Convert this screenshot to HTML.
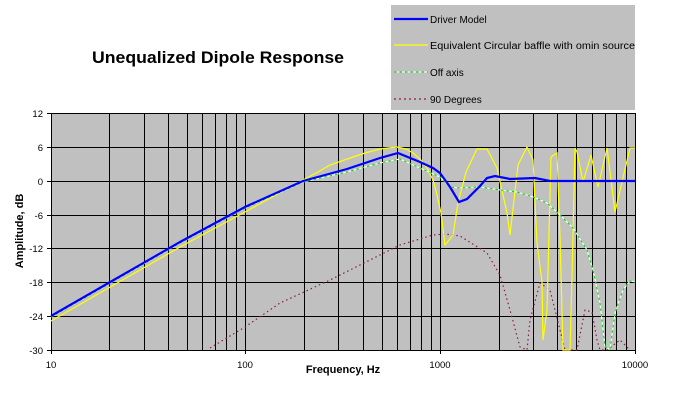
<!DOCTYPE html>
<html><head><meta charset="utf-8"><style>
html,body{margin:0;padding:0;background:#fff;}
svg{display:block;font-family:"Liberation Sans",Arial,sans-serif;}
</style></head><body>
<svg width="693" height="415" viewBox="0 0 693 415" xmlns="http://www.w3.org/2000/svg">
<rect x="0" y="0" width="693" height="415" fill="#fff"/>
<rect x="51" y="113" width="584" height="237" fill="#c0c0c0"/>
<g stroke="#000" stroke-width="1">
<line x1="51" y1="113.5" x2="635" y2="113.5"/>
<line x1="51" y1="147.5" x2="635" y2="147.5"/>
<line x1="51" y1="181.5" x2="635" y2="181.5"/>
<line x1="51" y1="215.5" x2="635" y2="215.5"/>
<line x1="51" y1="248.5" x2="635" y2="248.5"/>
<line x1="51" y1="282.5" x2="635" y2="282.5"/>
<line x1="51" y1="316.5" x2="635" y2="316.5"/>
<line x1="51" y1="350.5" x2="635" y2="350.5"/>
<line x1="51.5" y1="113" x2="51.5" y2="350"/>
<line x1="109.5" y1="113" x2="109.5" y2="350"/>
<line x1="144.5" y1="113" x2="144.5" y2="350"/>
<line x1="168.5" y1="113" x2="168.5" y2="350"/>
<line x1="187.5" y1="113" x2="187.5" y2="350"/>
<line x1="202.5" y1="113" x2="202.5" y2="350"/>
<line x1="215.5" y1="113" x2="215.5" y2="350"/>
<line x1="226.5" y1="113" x2="226.5" y2="350"/>
<line x1="236.5" y1="113" x2="236.5" y2="350"/>
<line x1="245.5" y1="113" x2="245.5" y2="350"/>
<line x1="304.5" y1="113" x2="304.5" y2="350"/>
<line x1="338.5" y1="113" x2="338.5" y2="350"/>
<line x1="363.5" y1="113" x2="363.5" y2="350"/>
<line x1="382.5" y1="113" x2="382.5" y2="350"/>
<line x1="397.5" y1="113" x2="397.5" y2="350"/>
<line x1="410.5" y1="113" x2="410.5" y2="350"/>
<line x1="421.5" y1="113" x2="421.5" y2="350"/>
<line x1="431.5" y1="113" x2="431.5" y2="350"/>
<line x1="440.5" y1="113" x2="440.5" y2="350"/>
<line x1="499.5" y1="113" x2="499.5" y2="350"/>
<line x1="533.5" y1="113" x2="533.5" y2="350"/>
<line x1="557.5" y1="113" x2="557.5" y2="350"/>
<line x1="576.5" y1="113" x2="576.5" y2="350"/>
<line x1="592.5" y1="113" x2="592.5" y2="350"/>
<line x1="605.5" y1="113" x2="605.5" y2="350"/>
<line x1="616.5" y1="113" x2="616.5" y2="350"/>
<line x1="626.5" y1="113" x2="626.5" y2="350"/>
<line x1="635.5" y1="113" x2="635.5" y2="350"/>
<line x1="47" y1="113.5" x2="51" y2="113.5"/><line x1="47" y1="147.5" x2="51" y2="147.5"/>
<line x1="47" y1="181.5" x2="51" y2="181.5"/><line x1="47" y1="215.5" x2="51" y2="215.5"/>
<line x1="47" y1="248.5" x2="51" y2="248.5"/><line x1="47" y1="282.5" x2="51" y2="282.5"/>
<line x1="47" y1="316.5" x2="51" y2="316.5"/><line x1="47" y1="350.5" x2="51" y2="350.5"/>
<line x1="51.5" y1="350" x2="51.5" y2="354"/><line x1="245.5" y1="350" x2="245.5" y2="354"/>
<line x1="440.5" y1="350" x2="440.5" y2="354"/><line x1="635.5" y1="350" x2="635.5" y2="354"/>
</g>
<polyline fill="none" stroke="#8b1a4a" stroke-width="1.2" stroke-dasharray="1.5,3"
 points="210,348 245,327 280,303 330,280 380,255 400,245 433,235 445,234 460,236 487,253 500,275 510,310 520,347 527,350 530,320 540,283 550,290 560,330 565,350 577,350 585,310 592,312 597,340 600,350 607,350 620,340 630,350"/>
<polyline fill="none" stroke="#ffff00" stroke-width="1.2"
 points="51,321 180,247 245,212 303,180 318,172 330,165 350,158 365,153 380,149 397,147 406,149 413,153 420,159 427,168 433,180 437,195 441,213 445,245 453,235 458,203 466,172 477,149 487,149 497,168 507,213 510,235 518,165 527,147 533,160 537,243 542,282 543,340 547,310 551,157 557,153 560,237 563,350 570,350 572,277 575,148 577,152 583,182 591,155 598,187 607,148 615,212 630,148 635,148"/>
<polyline fill="none" stroke="#ffffff" stroke-width="1.1"
 points="51,317 180,243 245,208 303,182 347,172 380,163 400,159 420,168 440,177 450,187 460,188 480,187 500,190 517,192 533,197 547,203 560,215 573,228 587,250 593,270 600,303 605,347 610,349 615,313 623,290 630,281 635,282"/>
<polyline fill="none" stroke="#00e000" stroke-width="1.1" stroke-dasharray="2.5,3"
 points="51,317 180,243 245,208 303,182 347,172 380,163 400,159 420,168 440,177 450,187 460,188 480,187 500,190 517,192 533,197 547,203 560,215 573,228 587,250 593,270 600,303 605,347 610,349 615,313 623,290 630,281 635,282"/>
<polyline fill="none" stroke="#0000ff" stroke-width="2.2"
 points="51,316 180,242 245,207 303,181 347,169 380,158 398,153 420,162 433,168 440,173 450,187 459,202 467,199 480,186 487,178 495,176 510,179 535,178 550,181 635,181"/>
<g font-size="9.5" fill="#000" text-anchor="end">
<text x="43" y="117">12</text><text x="43" y="151">6</text><text x="43" y="185">0</text>
<text x="43" y="219">-6</text><text x="43" y="252">-12</text><text x="43" y="286">-18</text>
<text x="43" y="320">-24</text><text x="43" y="354">-30</text>
</g>
<g font-size="9.5" fill="#000" text-anchor="middle">
<text x="51" y="368">10</text><text x="245" y="368">100</text><text x="440" y="368">1000</text><text x="635" y="368">10000</text>
</g>
<text x="343" y="373" font-size="11" font-weight="bold" text-anchor="middle">Frequency, Hz</text>
<text transform="translate(23,231) rotate(-90)" font-size="11" font-weight="bold" text-anchor="middle">Amplitude, dB</text>
<text x="218" y="63" font-size="17" font-weight="bold" text-anchor="middle" textLength="252" lengthAdjust="spacingAndGlyphs">Unequalized Dipole Response</text>
<rect x="391" y="5" width="244" height="105" fill="#c0c0c0"/>
<line x1="394" y1="19" x2="428" y2="19" stroke="#0000ff" stroke-width="2.2"/>
<line x1="394" y1="45" x2="428" y2="45" stroke="#ffff00" stroke-width="1.2"/>
<line x1="394" y1="72" x2="428" y2="72" stroke="#fff" stroke-width="1.1"/>
<line x1="394" y1="72" x2="428" y2="72" stroke="#00e000" stroke-width="1.1" stroke-dasharray="2.5,3"/>
<line x1="394" y1="99" x2="428" y2="99" stroke="#8b1a4a" stroke-width="1.2" stroke-dasharray="2,3"/>
<g font-size="10" fill="#000">
<text x="430" y="23">Driver Model</text>
<text x="430" y="49" textLength="205" lengthAdjust="spacingAndGlyphs">Equivalent Circular baffle with omin source</text>
<text x="430" y="76">Off axis</text>
<text x="430" y="103">90 Degrees</text>
</g>
</svg>
</body></html>
